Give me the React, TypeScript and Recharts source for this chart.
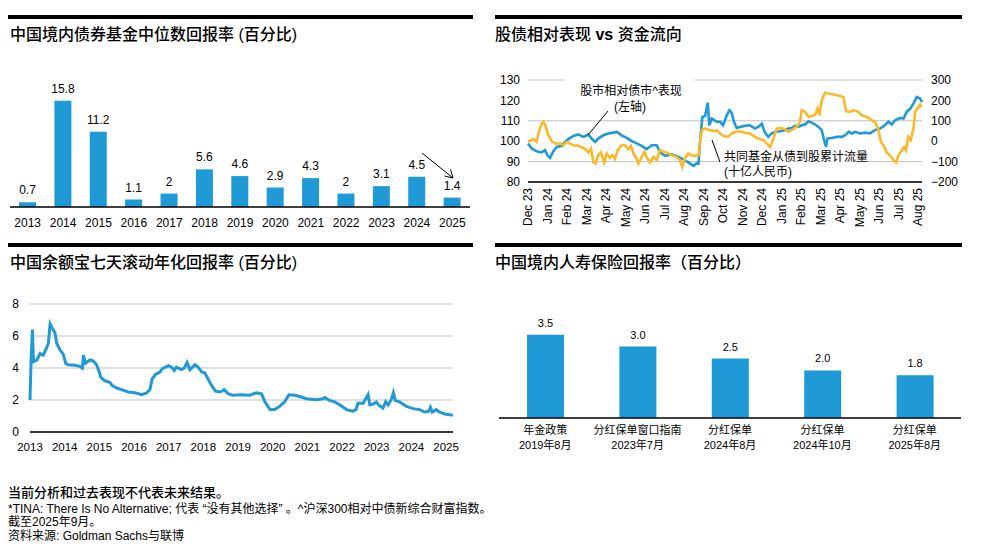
import React from "react";
import { BarChart, Bar, XAxis, YAxis, LabelList, LineChart, Line, CartesianGrid } from "recharts";

const FONT = '"Liberation Sans", Arial, "Noto Sans CJK SC", sans-serif';
const BLUE = "#1F9AD6";
const GOLD = "#FDB827";
const GRID = "#BFBFBF";

// 中国境内债券基金中位数回报率
const bondYears = ["2013", "2014", "2015", "2016", "2017", "2018", "2019", "2020", "2021", "2022", "2023", "2024", "2025"];
const bondReturns = [0.7, 15.8, 11.2, 1.1, 2, 5.6, 4.6, 2.9, 4.3, 2, 3.1, 4.5, 1.4];

// 股债相对表现 vs 资金流向 (x = months since Dec 23)
const flowMonthLabels = [
  "Dec 23", "Jan 24", "Feb 24", "Mar 24", "Apr 24", "May 24", "Jun 24", "Jul 24", "Aug 24", "Sep 24", "Oct 24",
  "Nov 24", "Dec 24", "Jan 25", "Feb 25", "Mar 25", "Apr 25", "May 25", "Jun 25", "Jul 25", "Aug 25",
];
const relPerf: [number, number][] = [
  [0, 98.9], [0.19, 96.4], [0.44, 95.1], [0.7, 94.5], [0.87, 95.6], [1.0, 93.1], [1.13, 91.8], [1.3, 95.1],
  [1.47, 97.2], [1.73, 97.7], [1.9, 99.7], [2.07, 101], [2.32, 102.6], [2.58, 103.3], [2.84, 102.1], [3.09, 103.3],
  [3.26, 101.3], [3.44, 99.7], [3.6, 101.3], [3.86, 102.9], [4.12, 103.8], [4.38, 104.2], [4.55, 104.6], [4.8, 102.9],
  [5.06, 101.6], [5.32, 100], [5.57, 98.9], [5.83, 97.7], [6.08, 96.1], [6.34, 98], [6.6, 98], [6.77, 94.5],
  [7.03, 92.8], [7.37, 93.5], [7.62, 92.8], [7.88, 91.5], [8.22, 89.6], [8.48, 87.9], [8.65, 89.1], [8.74, 89],
  [8.82, 99.7], [8.94, 111.9], [9.08, 112.4], [9.21, 118.9], [9.3, 107.8], [9.42, 111.1], [9.68, 109.5], [9.85, 109.5],
  [10.0, 107.8], [10.19, 112.7], [10.33, 115.2], [10.44, 114], [10.56, 109.5], [10.7, 106.5], [10.87, 107], [11.1, 107.5],
  [11.38, 107.8], [11.64, 106.2], [11.8, 107], [11.98, 108.6], [12.15, 104.2], [12.32, 102.1], [12.5, 103.8], [12.67, 104.6],
  [12.92, 104.9], [13.18, 105.4], [13.35, 106.2], [13.52, 106.5], [13.7, 107.5], [13.86, 107], [14.03, 107.8], [14.2, 108.2],
  [14.38, 109.8], [14.55, 109.1], [14.72, 108.2], [14.89, 107], [15.06, 105.4], [15.18, 100.5], [15.28, 97.2], [15.35, 101.3],
  [15.57, 101.6], [15.83, 102.1], [16.09, 102.1], [16.26, 102.9], [16.43, 104.6], [16.6, 103.8], [16.77, 104.6], [17.03, 103.8],
  [17.28, 104.2], [17.54, 103.8], [17.71, 104.9], [17.88, 105.9], [18.05, 106.2], [18.3, 107.8], [18.48, 109.5], [18.65, 108.2],
  [18.82, 110.3], [19.08, 111.4], [19.25, 111.1], [19.42, 114.4], [19.6, 116], [19.76, 118.4], [19.93, 121.7], [20.1, 120.9],
  [20.2, 119.2],
];
const fundFlow: [number, number][] = [
  [0, 0], [0.1, 0], [0.27, 10], [0.44, -3], [0.56, 46], [0.7, 86], [0.79, 95], [0.9, 78], [1.04, 29], [1.21, 0],
  [1.38, -11], [1.64, -11], [1.81, -20], [1.98, -3], [2.15, -11], [2.32, -20], [2.58, -23], [2.84, -33], [3.0, -44], [3.09, -55],
  [3.23, -36], [3.35, -104], [3.47, -109], [3.6, -69], [3.74, -55], [3.91, -104], [4.03, -60], [4.2, -82], [4.32, -69], [4.46, -88],
  [4.6, -44], [4.8, -20], [4.97, -20], [5.14, -39], [5.28, -23], [5.4, -60], [5.57, -85], [5.66, -109], [5.83, -77], [5.97, -52],
  [6.08, -77], [6.26, -104], [6.43, -77], [6.6, -93], [6.77, -44], [6.94, -52], [7.11, -55], [7.37, -69], [7.62, -77], [7.79, -93],
  [7.91, -126], [8.05, -82], [8.22, -60], [8.39, -69], [8.56, -72], [8.74, -69], [8.82, -3], [8.91, 54], [9.08, 62], [9.33, 54],
  [9.5, 49], [9.68, 54], [9.85, 38], [10.0, 26], [10.27, 21], [10.44, 38], [10.62, 46], [10.87, 49], [11.1, 42], [11.38, 38],
  [11.64, 21], [11.9, 10], [12.07, 5], [12.24, -11], [12.41, -28], [12.55, 5], [12.75, 62], [12.92, 65], [13.18, 59], [13.35, 46],
  [13.52, 54], [13.78, 70], [13.95, 95], [14.03, 152], [14.2, 144], [14.38, 119], [14.55, 124], [14.72, 130], [14.85, 160], [14.94, 127],
  [15.06, 200], [15.23, 238], [15.49, 233], [15.74, 228], [16.0, 222], [16.17, 217], [16.31, 147], [16.51, 144], [16.68, 152], [16.94, 144],
  [17.11, 127], [17.37, 119], [17.62, 103], [17.79, 95], [17.97, 54], [18.09, -3], [18.22, -20], [18.39, -55], [18.56, -69], [18.74, -93],
  [18.87, -104], [18.99, -72], [19.16, -44], [19.28, -28], [19.38, -44], [19.5, 21], [19.62, 5], [19.76, 62], [19.85, 144], [19.97, 160],
  [20.1, 179], [20.2, 168],
];

// 中国余额宝七天滚动年化回报率 (x = years since 2013)
const yuebao: [number, number][] = [
  [0, 2.0], [0.03, 4.4], [0.07, 6.4], [0.1, 4.4], [0.2, 4.5], [0.29, 4.9], [0.38, 4.8], [0.48, 5.25], [0.53, 5.55],
  [0.58, 6.75], [0.64, 6.5], [0.72, 6.2], [0.77, 5.55], [0.86, 5.15], [0.96, 4.85], [1.03, 4.3], [1.1, 4.2], [1.3, 4.17],
  [1.44, 4.1], [1.51, 4.0], [1.54, 4.8], [1.6, 4.3], [1.73, 4.5], [1.82, 4.45], [1.92, 4.2], [1.99, 3.8], [2.05, 3.4],
  [2.16, 3.2], [2.31, 3.1], [2.37, 2.9], [2.5, 2.75], [2.64, 2.65], [2.83, 2.5], [3.03, 2.45], [3.22, 2.33], [3.37, 2.45],
  [3.46, 2.65], [3.52, 3.3], [3.62, 3.6], [3.75, 3.75], [3.81, 3.95], [3.99, 4.15], [4.08, 4.05], [4.16, 3.85], [4.22, 4.05],
  [4.37, 3.9], [4.45, 4.0], [4.53, 4.35], [4.61, 3.9], [4.76, 4.2], [4.85, 4.05], [4.95, 3.75], [5.04, 3.7], [5.14, 3.3],
  [5.24, 2.9], [5.35, 2.55], [5.48, 2.5], [5.6, 2.65], [5.72, 2.38], [5.86, 2.3], [6.05, 2.33], [6.34, 2.3], [6.53, 2.45],
  [6.68, 2.38], [6.77, 1.9], [6.92, 1.4], [7.06, 1.4], [7.2, 1.6], [7.35, 1.9], [7.47, 2.33], [7.64, 2.3], [7.78, 2.22],
  [7.97, 2.08], [8.26, 2.02], [8.45, 2.08], [8.5, 2.15], [8.65, 1.96], [8.79, 1.88], [8.93, 1.7], [9.13, 1.4], [9.31, 1.3],
  [9.4, 1.4], [9.46, 1.8], [9.61, 1.8], [9.75, 2.33], [9.8, 1.7], [9.9, 1.75], [9.99, 1.88], [10.07, 1.65], [10.18, 1.5],
  [10.26, 1.9], [10.33, 1.7], [10.42, 2.02], [10.48, 2.45], [10.54, 1.96], [10.66, 1.88], [10.86, 1.6], [11.05, 1.46],
  [11.24, 1.4], [11.38, 1.25], [11.5, 1.3], [11.55, 1.55], [11.6, 1.25], [11.72, 1.4], [11.8, 1.25], [11.96, 1.13], [12.2, 1.05],
];
const yuebaoTicks = [0, 1, 2, 3, 4, 5, 6, 7, 8, 9, 10, 11, 12];

// 中国境内人寿保险回报率
const insurancePolicy = ["年金政策", "分红保单窗口指南", "分红保单", "分红保单", "分红保单"];
const insuranceDate = ["2019年8月", "2023年7月", "2024年8月", "2024年10月", "2025年8月"];
const insuranceRates = [3.5, 3.0, 2.5, 2.0, 1.8];

const bondData = bondYears.map((year, i) => ({ year, value: bondReturns[i] }));
const relPerfData = relPerf.map(([m, v]) => ({ m, v }));
const fundFlowData = fundFlow.map(([m, v]) => ({ m, v }));
const yuebaoData = yuebao.map(([t, v]) => ({ t, v }));
const insData = insurancePolicy.map((p, i) => ({ key: String(i), policy: p, date: insuranceDate[i], rate: insuranceRates[i] }));

const Rule = ({ x, y, w }: { x: number; y: number; w: number }) => (
  <div style={{ position: "absolute", left: x, top: y, width: w, height: 4, background: "#000" }} />
);

const Title = ({ x, y, children }: { x: number; y: number; children: React.ReactNode }) => (
  <div style={{ position: "absolute", left: x, top: y - 10, lineHeight: "20px", fontSize: 16, fontWeight: 500, whiteSpace: "nowrap" }}>
    {children}
  </div>
);

const MonthTick = (props: any) => {
  const { x, y, payload } = props;
  return (
    <text x={x} y={y} transform={`rotate(-90 ${x} ${y})`} textAnchor="end" dy="0.35em" fontSize={12} fill="#000" fontFamily={FONT}>
      {flowMonthLabels[payload.value]}
    </text>
  );
};

const InsTick = (props: any) => {
  const { x, y, payload } = props;
  const i = Number(payload.value);
  return (
    <g>
      <text x={x} y={y + 4} dy="0.35em" textAnchor="middle" fontSize={11} fill="#000" fontFamily={FONT}>
        {insurancePolicy[i]}
      </text>
      <text x={x} y={y + 19} dy="0.35em" textAnchor="middle" fontSize={11} fill="#000" fontFamily={FONT}>
        {insuranceDate[i]}
      </text>
    </g>
  );
};

const fmtSigned = (v: number) => (v < 0 ? "\u2212" + Math.abs(v) : String(v));

const FootLine = ({ y, size, weight, children }: { y: number; size: number; weight?: number; children: React.ReactNode }) => (
  <div style={{ position: "absolute", left: 8, top: y - 8, lineHeight: "16px", fontSize: size, fontWeight: weight ?? 400, whiteSpace: "nowrap" }}>
    {children}
  </div>
);

export default function App() {
  return (
    <div style={{ position: "absolute", left: 0, top: 0, width: 987, height: 551, background: "#fff", fontFamily: FONT, color: "#000", overflow: "hidden" }}>
      {/* top left */}
      <Rule x={8} y={15} w={465} />
      <Title x={10} y={35}>中国境内债券基金中位数回报率 (百分比)</Title>
      <div style={{ position: "absolute", left: 0, top: 60 }}>
        <BarChart width={480} height={180} data={bondData} margin={{ top: 26, right: 10, left: 10, bottom: 0 }} barCategoryGap={0}>
          <XAxis dataKey="year" interval={0} tickLine={false} axisLine={{ stroke: "#000", strokeWidth: 1.3 }} tick={{ fontSize: 12, fill: "#000" }} height={33} tickMargin={5} />
          <YAxis hide domain={[0, 18]} />
          <Bar dataKey="value" fill={BLUE} barSize={17} isAnimationActive={false}>
            <LabelList dataKey="value" position="top" offset={8} style={{ fontSize: 12, fill: "#000" }} />
          </Bar>
        </BarChart>
      </div>

      {/* top right */}
      <Rule x={495} y={15} w={467} />
      <Title x={495} y={35}>股债相对表现 <b>vs</b> 资金流向</Title>
      <div style={{ position: "absolute", left: 490, top: 60 }}>
        <LineChart width={490} height={180} margin={{ top: 20, right: 0, left: 0, bottom: 0 }}>
          <CartesianGrid yAxisId="left" vertical={false} stroke={GRID} />
          <XAxis
            type="number"
            dataKey="m"
            domain={[0, 20.2]}
            ticks={flowMonthLabels.map((_, i) => i)}
            interval={0}
            tick={MonthTick}
            tickLine={false}
            tickSize={4}
            axisLine={{ stroke: "#000", strokeWidth: 1.3 }}
            height={58}
          />
          <YAxis yAxisId="left" domain={[80, 130]} ticks={[80, 90, 100, 110, 120, 130]} width={38} axisLine={false} tickLine={false} tickMargin={2} tick={{ fontSize: 12, fill: "#000" }} />
          <YAxis yAxisId="right" orientation="right" domain={[-200, 300]} ticks={[-200, -100, 0, 100, 200, 300]} width={58} axisLine={false} tickLine={false} tickMargin={3} tick={{ fontSize: 12, fill: "#000", textAnchor: "start" }} tickFormatter={fmtSigned} />
          <Line yAxisId="left" data={relPerfData} dataKey="v" stroke={BLUE} strokeWidth={2.6} dot={false} isAnimationActive={false} />
          <Line yAxisId="right" data={fundFlowData} dataKey="v" stroke={GOLD} strokeWidth={2.6} dot={false} isAnimationActive={false} />
        </LineChart>
      </div>

      {/* bottom left */}
      <Rule x={8} y={243} w={465} />
      <Title x={10} y={263}>中国余额宝七天滚动年化回报率 (百分比)</Title>
      <div style={{ position: "absolute", left: 0, top: 280 }}>
        <LineChart width={480} height={190} data={yuebaoData} margin={{ top: 24, right: 27, left: 0, bottom: 0 }}>
          <CartesianGrid vertical={false} stroke={GRID} />
          <XAxis type="number" dataKey="t" domain={[0, 12.2]} ticks={yuebaoTicks} interval={0} tickFormatter={(v: number) => String(2013 + v)} tickLine={false} axisLine={{ stroke: "#000", strokeWidth: 1.3 }} tick={{ fontSize: 11.5, fill: "#000" }} height={38} tickMargin={5} />
          <YAxis domain={[0, 8]} ticks={[0, 2, 4, 6, 8]} width={30} axisLine={false} tickLine={false} tickMargin={5} tick={{ fontSize: 12, fill: "#000" }} />
          <Line dataKey="v" stroke={BLUE} strokeWidth={3} dot={false} isAnimationActive={false} />
        </LineChart>
      </div>

      {/* bottom right */}
      <Rule x={495} y={243} w={467} />
      <Title x={495} y={263}>中国境内人寿保险回报率（百分比）</Title>
      <div style={{ position: "absolute", left: 490, top: 280 }}>
        <BarChart width={490} height={180} data={insData} margin={{ top: 19, right: 19, left: 9, bottom: 0 }} barCategoryGap={0}>
          <XAxis dataKey="key" interval={0} tickLine={false} axisLine={{ stroke: "#000", strokeWidth: 1.3 }} tick={InsTick} height={42} />
          <YAxis hide domain={[0, 5]} />
          <Bar dataKey="rate" fill={BLUE} barSize={37} isAnimationActive={false}>
            <LabelList dataKey="rate" position="top" offset={8} formatter={(v: any) => Number(v).toFixed(1)} style={{ fontSize: 11, fill: "#000" }} />
          </Bar>
        </BarChart>
      </div>

      {/* annotations */}
      <svg width={987} height={551} style={{ position: "absolute", left: 0, top: 0, pointerEvents: "none" }}>
        <line x1={422} y1={153} x2={453} y2={178} stroke="#000" strokeWidth={1} />
        <polyline points="444.5,176 453,178 450.5,169.5" fill="none" stroke="#000" strokeWidth={1} />

        <rect x={564} y={79} width={131} height={35} fill="#fff" />
        <text x={631} y={91} dy="0.35em" textAnchor="middle" fontSize={12} fontFamily={FONT}>股市相对债市^表现</text>
        <text x={630} y={107} dy="0.35em" textAnchor="middle" fontSize={12} fontFamily={FONT}>(左轴)</text>
        <line x1={608} y1={111} x2={588} y2={135} stroke="#000" strokeWidth={1} />

        <rect x={720} y={150} width={148} height={30} fill="#fff" />
        <text x={724} y={157} dy="0.35em" fontSize={12} fontFamily={FONT}>共同基金从债到股累计流量</text>
        <text x={724} y={172} dy="0.35em" fontSize={12} fontFamily={FONT}>(十亿人民币)</text>
        <line x1={712} y1={140} x2={720} y2={162} stroke="#000" strokeWidth={1} />
      </svg>

      {/* footer */}
      <FootLine y={493} size={13} weight={500}>当前分析和过去表现不代表未来结果。</FootLine>
      <FootLine y={509} size={12}>*TINA: There Is No Alternative; 代表 “没有其他选择” 。^沪深300相对中债新综合财富指数。</FootLine>
      <FootLine y={522} size={12}>截至2025年9月。</FootLine>
      <FootLine y={536} size={12}>资料来源: Goldman Sachs与联博</FootLine>
    </div>
  );
}
